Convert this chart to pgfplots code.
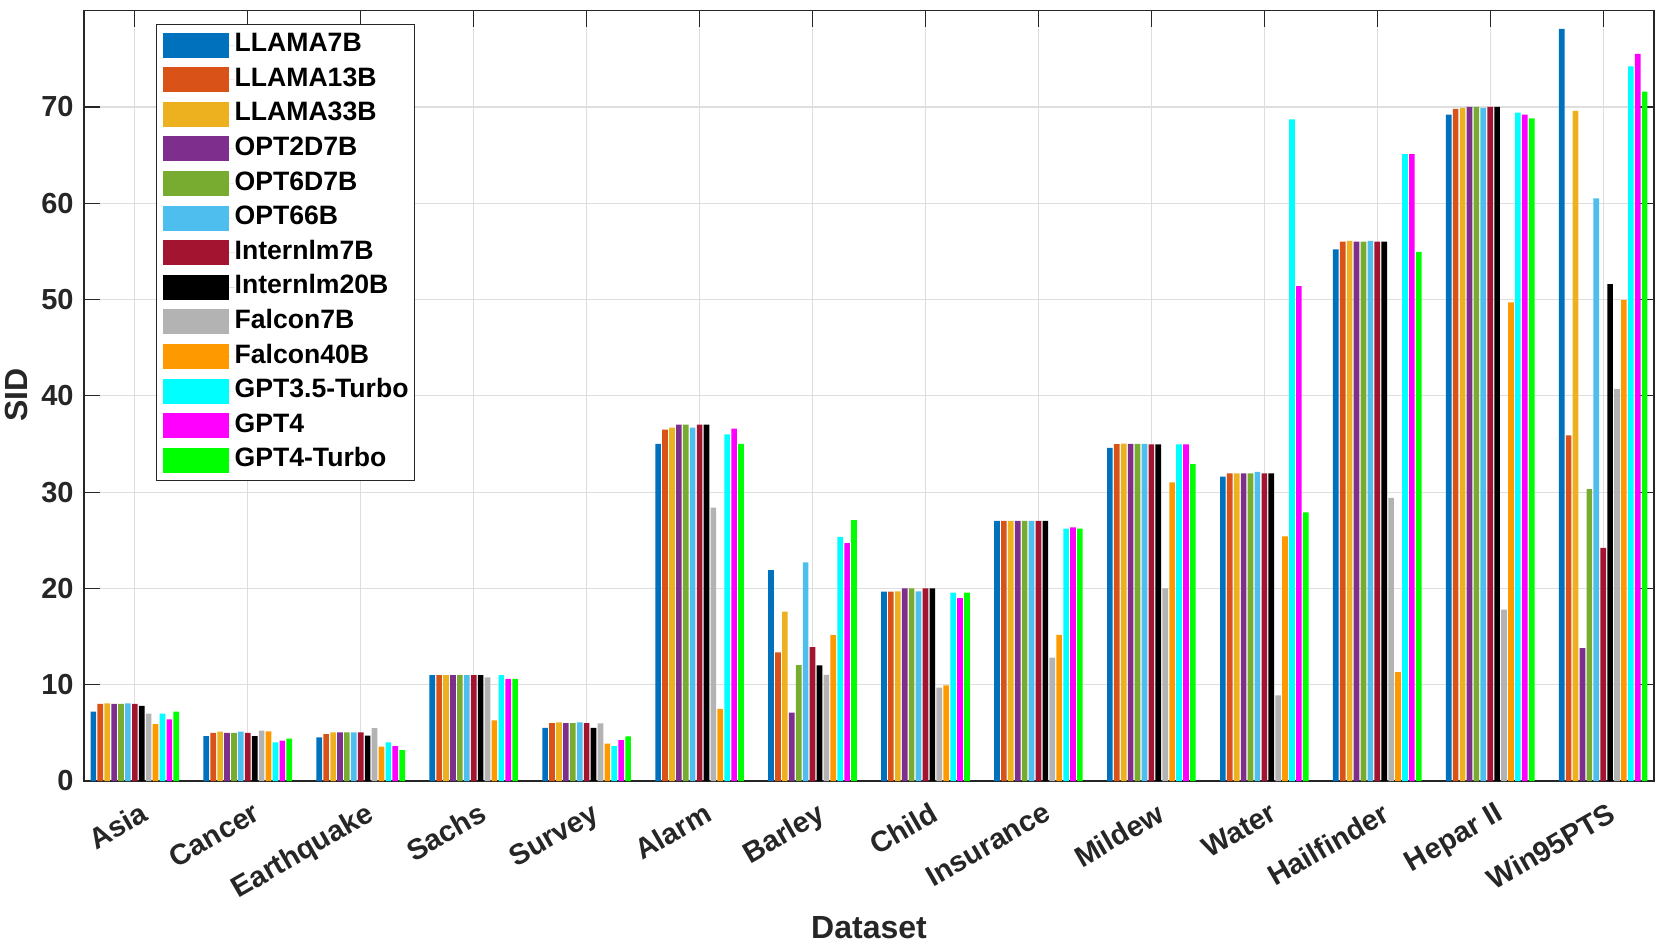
\documentclass[border=0pt]{standalone}
\usepackage{pgfplots}
\usepackage{pgfplotstable}
\usepackage{fontspec}
\setmainfont{Liberation Sans}
\pgfplotsset{compat=1.18}

\definecolor{cA}{HTML}{0072BD}
\definecolor{cB}{HTML}{D95319}
\definecolor{cC}{HTML}{EDB120}
\definecolor{cD}{HTML}{7E2F8E}
\definecolor{cE}{HTML}{77AC30}
\definecolor{cF}{HTML}{4DBEEE}
\definecolor{cG}{HTML}{A2142F}
\definecolor{cH}{HTML}{000000}
\definecolor{cI}{HTML}{B3B3B3}
\definecolor{cJ}{HTML}{FF9900}
\definecolor{cK}{HTML}{00FFFF}
\definecolor{cL}{HTML}{FF00FF}
\definecolor{cM}{HTML}{00FF00}
\definecolor{axgray}{HTML}{262626}

% SID per dataset (rows) and model (columns)
\pgfplotstableread{
x  c1    c2    c3    c4    c5    c6    c7    c8    c9    c10   c11   c12   c13
1  7.2   8.0   8.05  8.0   8.0   8.05  8.0   7.8   7.0   5.9   7.0   6.4   7.2
2  4.65  5.0   5.13  5.0   5.0   5.13  5.0   4.65  5.23  5.16  4.0   4.2   4.4
3  4.53  4.87  5.05  5.05  5.05  5.05  5.05  4.7   5.5   3.56  4.0   3.63  3.2
4  11.0  11.0  11.0  11.0  11.0  11.0  11.0  11.0  10.76 6.29  11.0  10.6  10.6
5  5.53  6.0   6.1   6.0   6.0   6.1   6.0   5.53  5.98  3.87  3.63  4.25  4.63
6  35.0  36.5  36.7  37.0  37.0  36.7  37.0  37.0  28.4  7.5   36.0  36.6  35.0
7  21.9  13.35 17.6  7.1   12.04 22.7  13.9  12.0  11.03 15.15 25.35 24.7  27.1
8  19.66 19.66 19.7  20.0  20.0  19.7  20.0  20.0  9.7   9.93  19.55 19.0  19.55
9  27.0  27.0  27.0  27.0  27.0  27.0  27.0  27.0  12.8  15.17 26.2  26.35 26.2
10 34.6  34.97 35.03 35.0  35.0  35.0  34.95 34.95 20.0  31.0  34.95 34.95 32.9
11 31.6  31.95 31.95 31.95 31.95 32.1  31.95 31.95 8.9   25.4  68.7  51.4  27.9
12 55.2  56.0  56.1  56.0  56.0  56.1  56.0  56.0  29.4  11.3  65.1  65.1  54.95
13 69.2  69.8  69.9  70.0  70.0  69.9  70.0  70.0  17.8  49.7  69.4  69.2  68.8
14 78.1  35.9  69.6  13.8  30.3  60.5  24.2  51.6  40.7  49.95 74.2  75.5  71.6
}\sid

\begin{document}
\begin{tikzpicture}
\begin{axis}[
  scale only axis,
  width=785pt, height=385.2pt,
  at={(0,0)}, anchor=south west,
  ybar, bar width=0.05,
  xmin=0.55, xmax=14.45,
  ymin=0, ymax=80,
  xtick={1,...,14},
  xticklabels={Asia,Cancer,Earthquake,Sachs,Survey,Alarm,Barley,Child,Insurance,Mildew,Water,Hailfinder,Hepar II,Win95PTS},
  ytick={0,10,...,70},
  tick align=inside,
  major tick length=8pt,
  xmajorgrids, ymajorgrids,
  grid style={line width=0.6pt, draw=black!13},
  axis line style={line width=0.6pt, draw=axgray},
  every tick/.style={line width=0.6pt, draw=axgray},
  /pgf/number format/assume math mode=true,
  tick label style={font=\fontsize{14.5}{17}\selectfont\bfseries, text=axgray},
  yticklabel style={inner sep=0pt, xshift=-5pt},
  xticklabel style={inner sep=0pt, xshift=2pt, yshift=-10pt, rotate=30, anchor=north east},
  xlabel={Dataset}, ylabel={SID},
  label style={font=\fontsize{16}{19}\selectfont\bfseries, text=axgray},
  xlabel style={at={(axis description cs:0.5,-0.19)}, anchor=center},
  ylabel style={at={(axis description cs:-0.0433,0.501)}, anchor=center},
  legend cell align=left,
  legend image code/.code={\path (0pt,0pt) -- (36pt,0pt);
    \fill[#1] (0pt,-6.25pt) rectangle (33pt,6.25pt);},
  legend style={at={(0.0459,0.9826)}, anchor=north west, draw=axgray, line width=0.6pt,
    fill=white, font=\fontsize{13.3}{15}\selectfont\bfseries,
    row sep=4.8pt, inner xsep=3pt, inner ysep=4pt,
    nodes={inner sep=0pt, text height=9.5pt, text depth=3pt}},
]
\addplot[fill=cA, draw=none, bar shift=-0.3672] table[x=x, y=c1] {\sid};
\addplot[fill=cB, draw=none, bar shift=-0.3060] table[x=x, y=c2] {\sid};
\addplot[fill=cC, draw=none, bar shift=-0.2448] table[x=x, y=c3] {\sid};
\addplot[fill=cD, draw=none, bar shift=-0.1836] table[x=x, y=c4] {\sid};
\addplot[fill=cE, draw=none, bar shift=-0.1224] table[x=x, y=c5] {\sid};
\addplot[fill=cF, draw=none, bar shift=-0.0612] table[x=x, y=c6] {\sid};
\addplot[fill=cG, draw=none, bar shift=0] table[x=x, y=c7] {\sid};
\addplot[fill=cH, draw=none, bar shift=0.0612] table[x=x, y=c8] {\sid};
\addplot[fill=cI, draw=none, bar shift=0.1224] table[x=x, y=c9] {\sid};
\addplot[fill=cJ, draw=none, bar shift=0.1836] table[x=x, y=c10] {\sid};
\addplot[fill=cK, draw=none, bar shift=0.2448] table[x=x, y=c11] {\sid};
\addplot[fill=cL, draw=none, bar shift=0.3060] table[x=x, y=c12] {\sid};
\addplot[fill=cM, draw=none, bar shift=0.3672] table[x=x, y=c13] {\sid};
\legend{LLAMA7B,LLAMA13B,LLAMA33B,OPT2D7B,OPT6D7B,OPT66B,Internlm7B,Internlm20B,Falcon7B,Falcon40B,GPT3.5-Turbo,GPT4,GPT4-Turbo}
\end{axis}
\pgfresetboundingbox
\path (-42pt,-81.5pt) rectangle (788pt,390.5pt);
\end{tikzpicture}
\end{document}
